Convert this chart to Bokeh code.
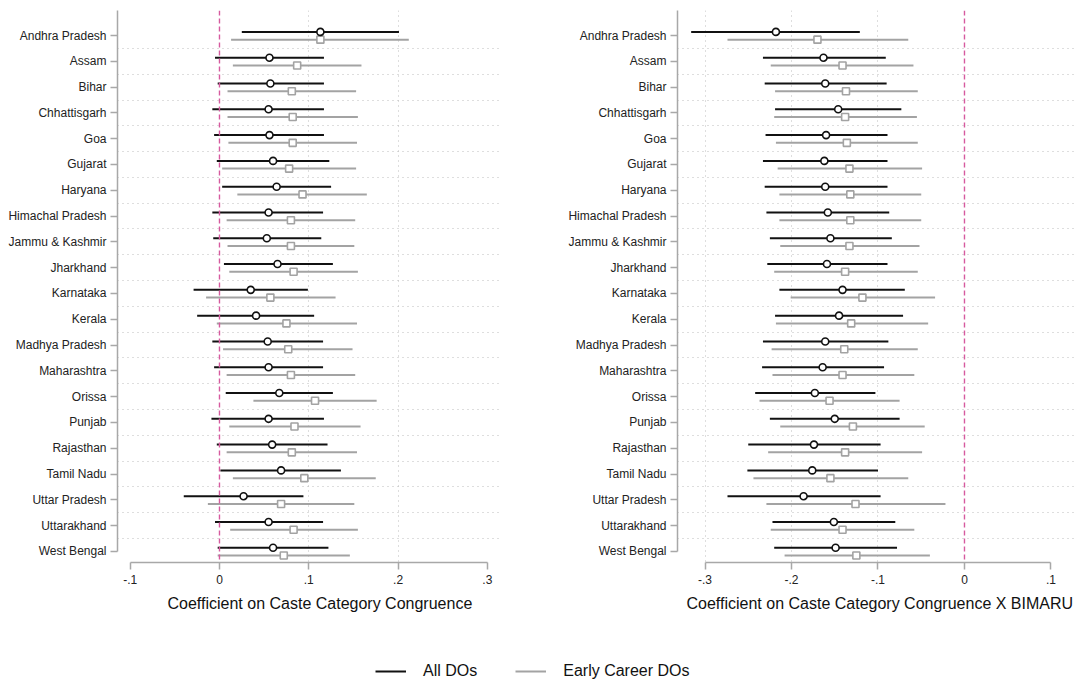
from bokeh.plotting import figure
from bokeh.models import Range1d, FixedTicker, Span, Legend, LegendItem, Title
from bokeh.layouts import column, row
from bokeh.embed import file_html
from bokeh.resources import INLINE

states = ["Andhra Pradesh", "Assam", "Bihar", "Chhattisgarh", "Goa", "Gujarat",
          "Haryana", "Himachal Pradesh", "Jammu & Kashmir", "Jharkhand", "Karnataka",
          "Kerala", "Madhya Pradesh", "Maharashtra", "Orissa", "Punjab", "Rajasthan",
          "Tamil Nadu", "Uttar Pradesh", "Uttarakhand", "West Bengal"]

# Left panel: Coefficient on Caste Category Congruence
all_coef = [0.113, 0.056, 0.057, 0.055, 0.056, 0.060, 0.064, 0.055, 0.053, 0.065, 0.035,
            0.041, 0.054, 0.055, 0.067, 0.055, 0.059, 0.069, 0.027, 0.055, 0.060]
all_lo = [0.025, -0.005, -0.002, -0.008, -0.006, -0.003, 0.003, -0.008, -0.007, 0.005, -0.029,
          -0.025, -0.008, -0.006, 0.007, -0.009, -0.003, 0.001, -0.040, -0.005, -0.002]
all_hi = [0.201, 0.117, 0.117, 0.117, 0.117, 0.123, 0.125, 0.116, 0.114, 0.127, 0.099,
          0.106, 0.116, 0.116, 0.127, 0.117, 0.121, 0.136, 0.094, 0.116, 0.122]
early_coef = [0.113, 0.087, 0.081, 0.082, 0.082, 0.078, 0.093, 0.080, 0.080, 0.083, 0.057,
              0.075, 0.077, 0.080, 0.107, 0.084, 0.081, 0.095, 0.069, 0.083, 0.072]
early_lo = [0.013, 0.015, 0.009, 0.009, 0.010, 0.003, 0.020, 0.008, 0.009, 0.011, -0.015,
            -0.003, 0.004, 0.008, 0.038, 0.011, 0.008, 0.015, -0.013, 0.012, -0.002]
early_hi = [0.212, 0.159, 0.153, 0.155, 0.154, 0.153, 0.165, 0.152, 0.151, 0.155, 0.130,
            0.154, 0.149, 0.152, 0.176, 0.158, 0.154, 0.175, 0.151, 0.155, 0.146]

# Right panel: Coefficient on Caste Category Congruence X BIMARU
bim_all_coef = [-0.218, -0.163, -0.161, -0.146, -0.160, -0.162, -0.161, -0.158, -0.155, -0.159, -0.141,
                -0.145, -0.161, -0.164, -0.173, -0.150, -0.174, -0.176, -0.186, -0.151, -0.149]
bim_all_lo = [-0.316, -0.233, -0.231, -0.219, -0.230, -0.233, -0.231, -0.229, -0.225, -0.228, -0.214,
              -0.219, -0.233, -0.234, -0.242, -0.225, -0.250, -0.251, -0.274, -0.222, -0.220]
bim_all_hi = [-0.121, -0.091, -0.090, -0.073, -0.089, -0.089, -0.089, -0.087, -0.084, -0.089, -0.069,
              -0.071, -0.088, -0.093, -0.103, -0.075, -0.097, -0.100, -0.097, -0.080, -0.078]
bim_early_coef = [-0.170, -0.141, -0.137, -0.138, -0.136, -0.133, -0.132, -0.132, -0.133, -0.138, -0.118,
                  -0.131, -0.139, -0.141, -0.156, -0.129, -0.138, -0.155, -0.126, -0.141, -0.125]
bim_early_lo = [-0.274, -0.224, -0.219, -0.220, -0.218, -0.216, -0.214, -0.214, -0.213, -0.220, -0.201,
                -0.218, -0.223, -0.222, -0.237, -0.213, -0.227, -0.244, -0.229, -0.224, -0.208]
bim_early_hi = [-0.065, -0.059, -0.054, -0.055, -0.054, -0.049, -0.050, -0.050, -0.052, -0.054, -0.034,
                -0.042, -0.054, -0.058, -0.075, -0.046, -0.049, -0.065, -0.022, -0.058, -0.040]

left_ticks = [-0.1, 0.0, 0.1, 0.2, 0.3]
left_tick_labels = ["-.1", "0", ".1", ".2", ".3"]
right_ticks = [-0.3, -0.2, -0.1, 0.0, 0.1]
right_tick_labels = ["-.3", "-.2", "-.1", "0", ".1"]

FONT = "Liberation Sans"
AXIS_GREY = "#a8a8a8"
GRID_GREY = "#bdbdbd"
BLACK = "#111111"
GREY = "#a3a3a3"
PINK = "#d65a9f"

n = len(states)
rows = list(range(n))
y_all = [r - 0.14 for r in rows]
y_early = [r + 0.16 for r in rows]


def make_panel(width, x_start, x_end, ticks, tick_labels, grid_ticks, title, title_offset,
               border_left, border_right, ac, alo, ahi, ec, elo, ehi):
    p = figure(width=width, height=620, output_backend="svg", toolbar_location=None,
               x_range=Range1d(x_start, x_end), y_range=Range1d(20.43, -0.97),
               min_border_left=border_left, min_border_right=border_right,
               min_border_top=10, min_border_bottom=58)
    p.outline_line_color = None
    p.background_fill_color = "white"

    # grids
    p.ygrid.ticker = FixedTicker(ticks=[r + 0.5 for r in rows[:-1]])
    p.ygrid.grid_line_color = GRID_GREY
    p.ygrid.grid_line_dash = "1 4"
    p.ygrid.grid_line_width = 1
    p.xgrid.ticker = FixedTicker(ticks=grid_ticks)
    p.xgrid.grid_line_color = GRID_GREY
    p.xgrid.grid_line_dash = "1 4"
    p.xgrid.grid_line_width = 1

    # zero line
    p.add_layout(Span(location=0, dimension="height", line_color=PINK,
                      line_dash="5 3", line_width=1.4))

    # CIs
    p.segment(x0=elo, x1=ehi, y0=y_early, y1=y_early, line_color=GREY, line_width=2)
    p.segment(x0=alo, x1=ahi, y0=y_all, y1=y_all, line_color=BLACK, line_width=2)
    p.scatter(x=ec, y=y_early, marker="square", size=7, line_color=GREY,
              line_width=1.6, fill_color="white")
    p.scatter(x=ac, y=y_all, marker="circle", size=7, line_color=BLACK,
              line_width=1.6, fill_color="white")

    # x axis
    xa = p.xaxis[0]
    xa.ticker = FixedTicker(ticks=ticks)
    xa.major_label_overrides = {t: l for t, l in zip(ticks, tick_labels)}
    xa.bounds = (ticks[0], ticks[-1])
    xa.axis_line_color = AXIS_GREY
    xa.axis_line_width = 1.5
    xa.major_tick_line_color = AXIS_GREY
    xa.major_tick_line_width = 1.5
    xa.major_tick_out = 7
    xa.major_tick_in = 0
    xa.minor_tick_line_color = None
    xa.major_label_text_font = FONT
    xa.major_label_text_font_size = "12px"
    xa.major_label_text_color = "#222222"
    xa.major_label_standoff = 5

    p.add_layout(Title(text=title, align="left", offset=title_offset, standoff=12,
                       text_font=FONT, text_font_size="16px", text_font_style="normal",
                       text_color="#111111"), "below")

    # y axis
    ya = p.yaxis[0]
    ya.ticker = FixedTicker(ticks=rows)
    ya.major_label_overrides = {r: s for r, s in zip(rows, states)}
    ya.bounds = (-0.97, n - 1)
    ya.axis_line_color = AXIS_GREY
    ya.axis_line_width = 1.5
    ya.major_tick_line_color = AXIS_GREY
    ya.major_tick_line_width = 1.5
    ya.major_tick_out = 7
    ya.major_tick_in = 0
    ya.minor_tick_line_color = None
    ya.major_label_text_font = FONT
    ya.major_label_text_font_size = "12px"
    ya.major_label_text_color = "#222222"
    ya.major_label_standoff = 4
    return p


p1 = make_panel(537, -0.1142, 0.3147, left_ticks, left_tick_labels, [0.1, 0.2],
                "Coefficient on Caste Category Congruence", 50, 117, 37,
                all_coef, all_lo, all_hi, early_coef, early_lo, early_hi)
p2 = make_panel(537, -0.3318, 0.1272, right_ticks, right_tick_labels, [-0.3, -0.2, -0.1],
                "Coefficient on Caste Category Congruence X BIMARU", 9, 140, 0,
                bim_all_coef, bim_all_lo, bim_all_hi, bim_early_coef, bim_early_lo, bim_early_hi)

# legend strip
nan = float("nan")
p3 = figure(width=1074, height=63, output_backend="svg", toolbar_location=None,
            x_range=Range1d(0, 1), y_range=Range1d(0, 1),
            min_border_left=0, min_border_right=0, min_border_top=0, min_border_bottom=0)
p3.axis.visible = False
p3.grid.visible = False
p3.outline_line_color = None
r_all = p3.line(x=[nan, nan], y=[nan, nan], line_color=BLACK, line_width=2)
r_early = p3.line(x=[nan, nan], y=[nan, nan], line_color=GREY, line_width=2)
legend = Legend(items=[LegendItem(label="All DOs", renderers=[r_all]),
                       LegendItem(label="Early Career DOs", renderers=[r_early])],
                orientation="horizontal", location=(375, 3))
legend.border_line_color = None
legend.background_fill_alpha = 0
legend.padding = 0
legend.margin = 0
legend.spacing = 38
legend.glyph_width = 31
legend.glyph_height = 16
legend.label_standoff = 17
legend.label_text_font = FONT
legend.label_text_font_size = "16px"
legend.label_text_color = "#111111"
legend.label_height = 16
p3.add_layout(legend, "center")

layout = column(row(p1, p2), p3)
open("out.html", "w").write(file_html(layout, INLINE))
